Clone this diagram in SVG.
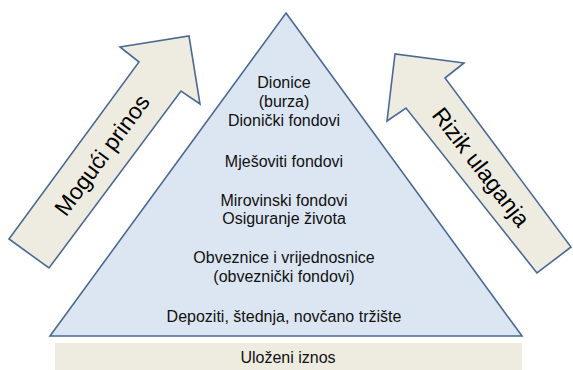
<svg xmlns="http://www.w3.org/2000/svg" width="573" height="370" viewBox="0 0 573 370">
<style>
.arrow{fill:#EEECE1;stroke:#4A6A94;stroke-width:1.6;stroke-linejoin:miter}
.tri{fill:#DCE6F2;stroke:#4A6A94;stroke-width:1.6}
.t{font-family:"Liberation Sans",Arial,sans-serif;font-size:16px;fill:#111;text-anchor:middle}
.big{font-family:"Liberation Sans",Arial,sans-serif;font-size:23px;fill:#000;text-anchor:middle;dominant-baseline:central}
</style>
<rect width="573" height="370" fill="#fff"/>
<g id="base">
<rect x="55" y="343" width="467" height="27" fill="#EEECE1"/>
<text class="t" x="288" y="363">Uloženi iznos</text>
</g>
<g id="pyramid">
<polygon class="tri" points="286,13 522,336 50,336"/>
<text class="t" x="284" y="88">Dionice</text>
<text class="t" x="284" y="107">(burza)</text>
<text class="t" x="284" y="126">Dionički fondovi</text>
<text class="t" x="284" y="167">Mješoviti fondovi</text>
<text class="t" x="284" y="206">Mirovinski fondovi</text>
<text class="t" x="284" y="224">Osiguranje života</text>
<text class="t" x="284" y="263">Obveznice i vrijednosnice</text>
<text class="t" x="284" y="282">(obveznički fondovi)</text>
<text class="t" x="284" y="322">Depoziti, štednja, novčano tržište</text>
</g>
<g id="arrow-prinos">
<polygon class="arrow" points="9,239 139,62 120,47 189,36 200,104 181,91 49,268"/>
<text class="big" transform="translate(102,155) rotate(-53.7)">Mogući prinos</text>
</g>
<g id="arrow-rizik">
<polygon class="arrow" points="537,273 406,108 387,121 395,54 464,63 445,78 571,247"/>
<text class="big" transform="translate(481,167) rotate(52.3)">Rizik ulaganja</text>
</g>
<g id="connectors"></g>
</svg>
